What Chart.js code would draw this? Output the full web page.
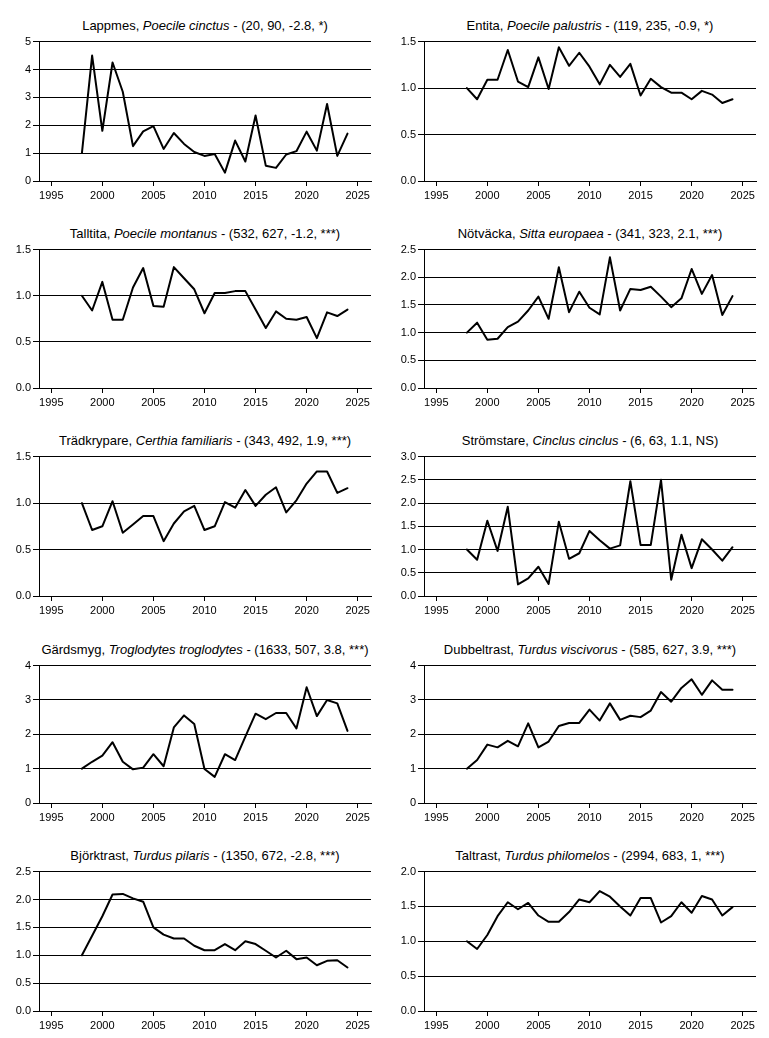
<!DOCTYPE html>
<html lang="sv">
<head>
<meta charset="UTF-8">
<title>Trender</title>
<script src="https://cdn.jsdelivr.net/npm/chart.js"></script>
<style>
    body { margin: 0; background: #fff; }
    #page { position: relative; width: 769px; height: 1038px; }
    .title {
        position: absolute;
        width: 332px;
        text-align: center;
        font-family: Arial, "Liberation Sans", sans-serif;
        font-size: 13px;
        line-height: 16px;
        color: #000;
        white-space: nowrap;
    }
    canvas { position: absolute; }
</style>
</head>
<body>
<div id="page"></div>
<script>
    // år och x-axelns etiketter
    const years = [1998, 1999, 2000, 2001, 2002, 2003, 2004, 2005, 2006, 2007, 2008, 2009, 2010, 2011,
                   2012, 2013, 2014, 2015, 2016, 2017, 2018, 2019, 2020, 2021, 2022, 2023, 2024];
    const xTicks = [1995, 2000, 2005, 2010, 2015, 2020, 2025];

    // index per art (1998 = 1)
    const lappmes     = [1.0, 4.5, 1.8, 4.25, 3.2, 1.25, 1.78, 1.97, 1.15, 1.72, 1.33, 1.04, 0.9, 0.97, 0.3, 1.45, 0.7, 2.35, 0.55, 0.47, 0.95, 1.07, 1.77, 1.09, 2.76, 0.9, 1.7];
    const entita      = [1.0, 0.88, 1.09, 1.09, 1.41, 1.07, 1.01, 1.33, 0.99, 1.44, 1.24, 1.38, 1.23, 1.04, 1.25, 1.12, 1.26, 0.92, 1.10, 1.01, 0.95, 0.95, 0.88, 0.97, 0.93, 0.84, 0.88];
    const talltita    = [1.0, 0.84, 1.15, 0.74, 0.74, 1.09, 1.30, 0.89, 0.88, 1.31, 1.19, 1.07, 0.81, 1.03, 1.03, 1.05, 1.05, 0.85, 0.65, 0.83, 0.75, 0.74, 0.77, 0.54, 0.82, 0.78, 0.85];
    const notvacka    = [1.0, 1.18, 0.87, 0.89, 1.1, 1.2, 1.4, 1.65, 1.25, 2.18, 1.37, 1.74, 1.45, 1.33, 2.36, 1.4, 1.79, 1.77, 1.83, 1.65, 1.46, 1.62, 2.15, 1.7, 2.04, 1.32, 1.66];
    const tradkrypare = [1.0, 0.71, 0.75, 1.02, 0.68, 0.77, 0.86, 0.86, 0.59, 0.78, 0.91, 0.97, 0.71, 0.75, 1.01, 0.95, 1.14, 0.97, 1.09, 1.17, 0.9, 1.03, 1.21, 1.34, 1.34, 1.11, 1.16];
    const stromstare  = [1.0, 0.78, 1.62, 0.97, 1.92, 0.25, 0.38, 0.63, 0.26, 1.6, 0.8, 0.92, 1.4, 1.2, 1.02, 1.09, 2.47, 1.1, 1.1, 2.5, 0.35, 1.32, 0.6, 1.22, 1.0, 0.76, 1.05];
    const gardsmyg    = [1.0, 1.2, 1.38, 1.77, 1.2, 0.98, 1.03, 1.42, 1.07, 2.2, 2.55, 2.3, 0.99, 0.76, 1.42, 1.25, 1.93, 2.6, 2.44, 2.62, 2.62, 2.17, 3.37, 2.53, 3.0, 2.9, 2.1];
    const dubbeltrast = [1.0, 1.25, 1.7, 1.62, 1.81, 1.65, 2.32, 1.62, 1.79, 2.24, 2.33, 2.33, 2.72, 2.4, 2.9, 2.42, 2.54, 2.5, 2.69, 3.23, 2.95, 3.35, 3.6, 3.15, 3.57, 3.3, 3.3];
    const bjorktrast  = [1.0, 1.35, 1.7, 2.09, 2.1, 2.02, 1.96, 1.5, 1.37, 1.3, 1.3, 1.17, 1.09, 1.09, 1.2, 1.09, 1.25, 1.2, 1.08, 0.96, 1.08, 0.93, 0.96, 0.82, 0.9, 0.91, 0.78];
    const taltrast    = [1.0, 0.89, 1.09, 1.36, 1.56, 1.46, 1.55, 1.37, 1.28, 1.28, 1.42, 1.6, 1.56, 1.72, 1.64, 1.5, 1.37, 1.62, 1.62, 1.27, 1.36, 1.56, 1.41, 1.65, 1.6, 1.37, 1.49];

    const series = [lappmes, entita, talltita, notvacka, tradkrypare, stromstare, gardsmyg, dubbeltrast, bjorktrast, taltrast];

    // rubriker
    const swedishNames = ['Lappmes', 'Entita', 'Talltita', 'Nötväcka', 'Trädkrypare',
                          'Strömstare', 'Gärdsmyg', 'Dubbeltrast', 'Björktrast', 'Taltrast'];
    const latinNames = ['Poecile cinctus', 'Poecile palustris', 'Poecile montanus', 'Sitta europaea', 'Certhia familiaris',
                        'Cinclus cinclus', 'Troglodytes troglodytes', 'Turdus viscivorus', 'Turdus pilaris', 'Turdus philomelos'];
    const stats = ['(20, 90, -2.8, *)', '(119, 235, -0.9, *)', '(532, 627, -1.2, ***)', '(341, 323, 2.1, ***)', '(343, 492, 1.9, ***)',
                   '(6, 63, 1.1, NS)', '(1633, 507, 3.8, ***)', '(585, 627, 3.9, ***)', '(1350, 672, -2.8, ***)', '(2994, 683, 1, ***)'];

    // y-axlar
    const yMax  = [5, 1.5, 1.5, 2.5, 1.5, 3, 4, 4, 2.5, 2];
    const yStep = [1, 0.5, 0.5, 0.5, 0.5, 0.5, 1, 1, 0.5, 0.5];

    // layout (pixlar)
    const plotTop    = [39, 247, 454, 663, 869];
    const plotBottom = [181, 388, 596, 803, 1011];
    const padTop = 6;
    const axisH = 27;

    const page = document.getElementById('page');
    const font = { family: 'Arial, "Liberation Sans", sans-serif', size: 11 };

    series.forEach((values, i) => {
        const col = i % 2;
        const row = Math.floor(i / 2);
        const left = col * 385;
        const plotH = plotBottom[row] - plotTop[row];

        const title = document.createElement('div');
        title.className = 'title';
        title.style.left = (left + 39) + 'px';
        title.style.top = (plotTop[row] - 21) + 'px';
        title.innerHTML = swedishNames[i] + ', <i>' + latinNames[i] + '</i> - ' + stats[i];
        page.appendChild(title);

        const canvas = document.createElement('canvas');
        canvas.width = 385;
        canvas.height = plotH + padTop + axisH;
        canvas.style.left = left + 'px';
        canvas.style.top = (plotTop[row] - padTop) + 'px';
        page.appendChild(canvas);

        const step = yStep[i];

        new Chart(canvas.getContext('2d'), {
            type: 'line',
            data: {
                datasets: [{
                    data: years.map((y, k) => ({ x: y, y: values[k] })),
                    borderColor: '#000',
                    borderWidth: 2,
                    borderJoinStyle: 'round',
                    borderCapStyle: 'round',
                    pointRadius: 0,
                    tension: 0,
                    fill: false,
                }]
            },
            options: {
                responsive: false,
                animation: false,
                devicePixelRatio: 1,
                layout: { padding: { top: padTop, left: 0, right: 14, bottom: 0 } },
                plugins: {
                    legend: { display: false },
                    tooltip: { enabled: false },
                },
                scales: {
                    x: {
                        type: 'linear',
                        min: 1993.8,
                        max: 2026.3,
                        afterBuildTicks: scale => { scale.ticks = xTicks.map(v => ({ value: v })); },
                        afterFit: scale => { scale.height = axisH; },
                        ticks: {
                            color: '#000',
                            font: font,
                            padding: 3,
                            maxRotation: 0,
                            autoSkip: false,
                            callback: v => String(v),
                        },
                        grid: {
                            drawOnChartArea: false,
                            drawTicks: true,
                            tickLength: 5,
                            color: '#000',
                        },
                        border: { display: true, color: '#000', width: 1 },
                    },
                    y: {
                        min: 0,
                        max: yMax[i],
                        afterFit: scale => { scale.width = 39; },
                        ticks: {
                            stepSize: step,
                            color: '#000',
                            font: font,
                            padding: 2,
                            callback: v => step < 1 ? v.toFixed(1) : String(v),
                        },
                        grid: {
                            color: '#000',
                            lineWidth: 1,
                            drawTicks: true,
                            tickLength: 6,
                        },
                        border: { display: true, color: '#000', width: 1 },
                    }
                }
            }
        });
    });
</script>
</body>
</html>
